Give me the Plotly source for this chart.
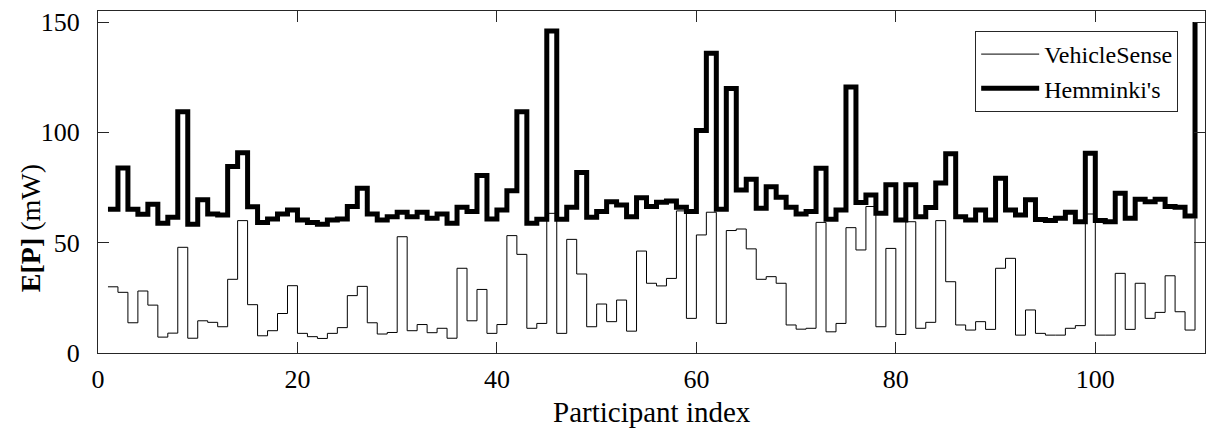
import plotly.graph_objects as go

participant_index = list(range(1, 111))

vehiclesense = [
    30.0, 27.5, 13.7, 28.1, 21.7, 7.2, 9.0, 47.9, 6.7, 14.6,
    13.9, 11.9, 33.4, 60.0, 21.9, 7.8, 10.1, 17.9, 30.5, 8.9,
    7.4, 6.6, 8.9, 11.5, 26.0, 30.2, 13.7, 8.6, 9.3, 52.7,
    10.1, 12.9, 9.2, 11.2, 6.7, 38.4, 14.6, 28.8, 8.9, 12.9,
    53.2, 44.7, 11.2, 13.4, 63.3, 8.9, 51.5, 35.8, 11.9, 22.2,
    14.2, 24.0, 9.9, 46.2, 31.6, 30.4, 33.8, 64.4, 15.7, 53.5,
    63.8, 13.4, 55.5, 56.2, 47.2, 33.4, 34.6, 31.6, 12.7, 10.8,
    11.2, 59.2, 9.6, 13.4, 56.8, 46.7, 66.4, 11.9, 47.4, 8.4,
    59.5, 11.2, 13.9, 60.0, 32.3, 12.7, 10.4, 14.2, 10.7, 38.4,
    42.9, 8.1, 19.5, 8.9, 8.1, 8.1, 11.2, 12.4, 63.0, 8.1,
    8.1, 36.1, 10.7, 31.6, 15.7, 18.4, 35.0, 18.7, 10.4, 61.0,
]

hemminki = [
    65.1, 83.9, 65.1, 62.9, 67.4, 58.8, 61.5, 109.3, 58.3, 69.4,
    63.0, 62.6, 84.5, 90.8, 66.3, 59.2, 60.7, 63.0, 64.8, 60.3,
    59.1, 58.3, 60.3, 60.7, 66.4, 74.7, 63.0, 60.3, 61.8, 63.8,
    61.8, 63.8, 61.1, 63.0, 58.8, 66.0, 64.1, 80.4, 60.7, 64.8,
    73.5, 109.3, 58.8, 60.6, 145.9, 60.6, 66.0, 81.8, 61.5, 64.1,
    68.6, 67.1, 61.8, 70.4, 66.4, 68.3, 68.9, 66.0, 64.1, 100.8,
    135.9, 65.1, 119.9, 73.9, 78.7, 65.6, 75.4, 70.6, 66.0, 63.0,
    64.1, 83.7, 60.6, 64.8, 120.5, 68.2, 71.6, 63.3, 76.2, 60.3,
    76.2, 61.8, 65.9, 77.0, 90.3, 61.8, 60.3, 64.8, 60.3, 79.2,
    64.8, 62.5, 69.5, 60.5, 60.0, 61.1, 63.8, 59.5, 90.5, 60.0,
    59.5, 72.4, 61.1, 69.7, 68.6, 69.7, 66.4, 66.0, 62.1, 150.0,
]

x_ticks = [0, 20, 40, 60, 80, 100]
y_ticks = [0, 50, 100, 150]

FONT = "Liberation Serif"
AX = "#262626"

fig = go.Figure()
fig.add_trace(go.Scatter(
    x=participant_index, y=vehiclesense, mode="lines", line_shape="hv",
    line=dict(color="black", width=1), name="VehicleSense"))
fig.add_trace(go.Scatter(
    x=participant_index, y=hemminki, mode="lines", line_shape="hv",
    line=dict(color="black", width=5), name="Hemminki's"))

axis_common = dict(
    showline=True, linecolor=AX, linewidth=1, mirror="ticks",
    ticks="inside", ticklen=11, tickcolor=AX, tickwidth=1,
    showgrid=False, zeroline=False,
    tickfont=dict(family=FONT, size=26, color="black"),
)

fig.update_layout(
    width=1206, height=430,
    margin=dict(l=98, r=1, t=11, b=77),
    paper_bgcolor="white", plot_bgcolor="white",
    font=dict(family=FONT, size=26, color="black"),
    xaxis=dict(range=[0, 111], tickvals=x_ticks, ticklabelstandoff=3, **axis_common),
    yaxis=dict(range=[0, 155], tickvals=y_ticks, ticklabelstandoff=12, **axis_common),
    legend=dict(
        x=0.7924, y=0.9415, xanchor="left", yanchor="top",
        bgcolor="white", bordercolor=AX, borderwidth=1,
        font=dict(family=FONT, size=24, color="black"),
        tracegroupgap=0, itemwidth=58,
    ),
    showlegend=True,
    annotations=[
        dict(text="<b>E[P]</b> (mW)", xref="paper", yref="paper",
             x=-0.0614, y=0.365, xanchor="center", yanchor="middle",
             textangle=-90, showarrow=False,
             font=dict(family=FONT, size=28, color="black")),
        dict(text="Participant index", xref="paper", yref="paper",
             x=0.5, y=-0.1725, xanchor="center", yanchor="middle",
             showarrow=False,
             font=dict(family=FONT, size=29, color="black")),
    ],
)

fig.write_html("out.html")
